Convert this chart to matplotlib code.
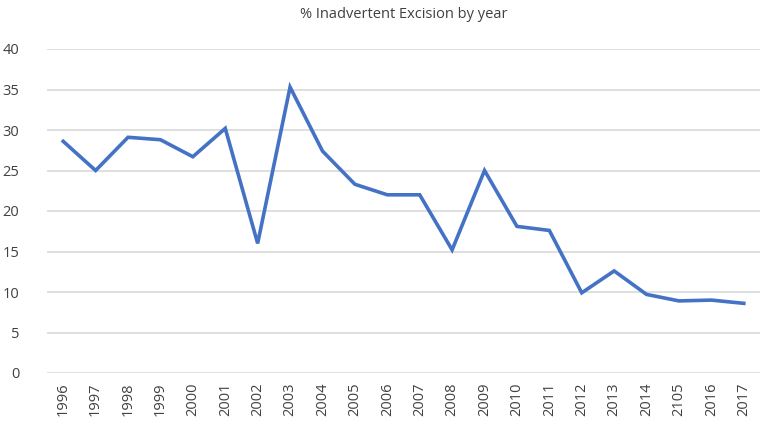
import numpy as np
import matplotlib.pyplot as plt

plt.rcParams['font.family'] = ['Open Sans', 'DejaVu Sans']

# data
years = ['1996', '1997', '1998', '1999', '2000', '2001', '2002', '2003',
         '2004', '2005', '2006', '2007', '2008', '2009', '2010', '2011',
         '2012', '2013', '2014', '2105', '2016', '2017']
pct = [28.6, 25.0, 29.1, 28.8, 26.7, 30.2, 16.0, 35.3, 27.4, 23.3, 22.0,
       22.0, 15.2, 25.0, 18.1, 17.6, 9.9, 12.6, 9.7, 8.9, 9.0, 8.6]

x = np.arange(len(years))

fig = plt.figure(figsize=(7.6, 4.3), dpi=100)
ax = fig.add_axes([47 / 760, 1 - 373 / 430, 713 / 760, 324 / 430])

ax.plot(x, pct, color='#4472C4', linewidth=2.6, solid_joinstyle='miter')

# axes styling
ax.set_xlim(-0.5, len(years) - 0.5)
ax.set_ylim(0, 40)
ax.set_yticks(np.arange(0, 41, 5))
ax.set_xticks(x, years, rotation=90)
ax.grid(axis='y', color='#d9d9d9', linewidth=1.2)
ax.set_axisbelow(True)
for s in ax.spines.values():
    s.set_visible(False)
ax.tick_params(axis='both', length=0, labelsize=10.5, colors='#404040')
ax.tick_params(axis='y', pad=20)
ax.tick_params(axis='x', pad=7)

ax.set_title('% Inadvertent Excision by year', fontsize=10.5,
             color='#404040', pad=22)

plt.savefig('out.png')
